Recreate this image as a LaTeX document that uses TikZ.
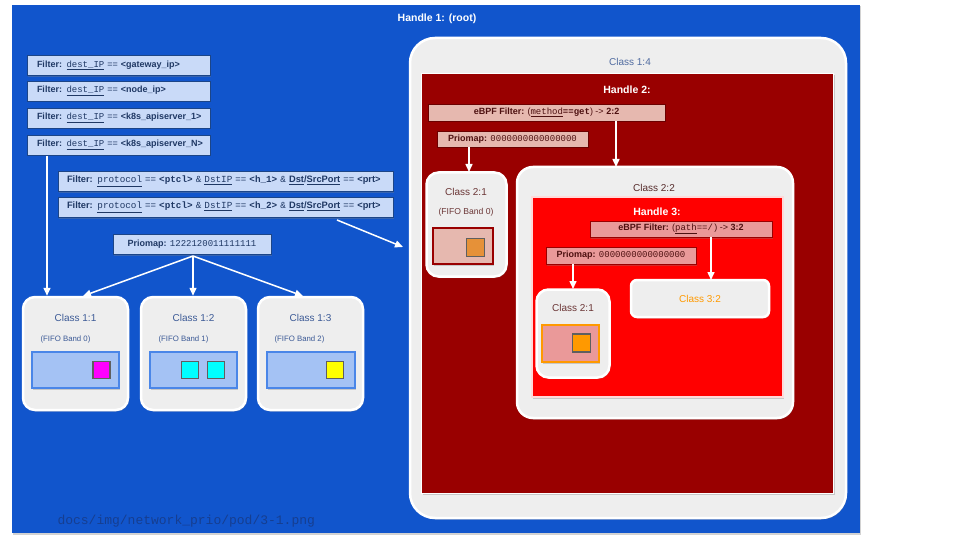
\documentclass[tikz,border=0pt]{standalone}
\usepackage{fontspec}
\setmainfont{Liberation Sans}
\setmonofont{Liberation Mono}
\usetikzlibrary{arrows.meta,shadows}
\definecolor{bgblue}{HTML}{1155CC}
\definecolor{filtfill}{HTML}{C9DAF8}
\definecolor{filtdraw}{HTML}{1C4587}
\definecolor{filttext}{HTML}{1F3864}
\definecolor{classfill}{HTML}{EEEEEE}
\definecolor{classtext}{HTML}{3C5A96}
\definecolor{bandfill}{HTML}{A4C2F4}
\definecolor{banddraw}{HTML}{4A86E8}
\definecolor{darkred}{HTML}{990000}
\definecolor{redfill}{HTML}{E6B8AF}
\definecolor{redfill2}{HTML}{EA9999}
\definecolor{redtext}{HTML}{4D1010}
\definecolor{browntext}{HTML}{6B3636}
\definecolor{orangeA}{HTML}{E69138}
\definecolor{orangeB}{HTML}{FF9900}
\definecolor{sqdraw}{HTML}{5F5F5F}
\definecolor{foot}{HTML}{163E90}
\definecolor{sqmag}{HTML}{FF00FF}
\definecolor{sqcyan}{HTML}{00FFFF}
\definecolor{sqyel}{HTML}{FFFF00}
\newcommand{\umono}[1]{\underline{\texttt{#1}}}
\newcommand{\bmono}[1]{\texttt{\bfseries #1}}
\tikzset{
  shad/.style={drop shadow={opacity=0.35,shadow xshift=1pt,shadow yshift=-1.5pt}},
  filt/.style={shad,draw=filtdraw,fill=filtfill,line width=0.8pt,text=filttext,
    inner sep=0pt,font=\fontsize{9}{11}\selectfont},
  lfilt/.style={filt,inner xsep=10pt,align=left},
  redfilt/.style={shad,draw=darkred!70!black,fill=redfill,line width=0.8pt,text=redtext,
    inner sep=0pt,font=\fontsize{9}{11}\selectfont},
  redfilt2/.style={redfilt,fill=redfill2,draw=darkred},
  classbox/.style={shad,draw=white,fill=classfill,line width=2.5pt,rounded corners=12pt,inner sep=0pt},
  band/.style={shad,draw=banddraw,fill=bandfill,line width=1.2pt,inner sep=0pt},
  sq/.style={draw=sqdraw,line width=1.5pt,minimum size=17pt,inner sep=0pt},
  clab/.style={text=classtext,font=\fontsize{10}{12}\selectfont},
  fifo/.style={text=classtext,font=\fontsize{7.8}{9}\selectfont},
  arr/.style={draw=white,line width=1.5pt,-{Triangle[width=7pt,length=8pt]}},
  title/.style={text=white,font=\bfseries\fontsize{10.5}{12}\selectfont}
}
\begin{document}
\begin{tikzpicture}[x=1pt,y=-1pt]
\useasboundingbox (0,0) rectangle (960,540);
\fill[white] (0,0) rectangle (960,540);
% root panel
\node[shad,fill=bgblue,minimum width=848pt,minimum height=528pt,inner sep=0pt] (root) at (436,269) {};
\node[title] (h1) at (437,19) {Handle 1: (root)};
% left filters
\node[lfilt,text width=163pt,minimum height=20pt] (f1) at (118.5,65.5) {\mbox{\textbf{Filter:} \umono{dest\_IP} == \textbf{<gateway\_ip>}}};
\node[lfilt,text width=163pt,minimum height=20pt] (f2) at (118.5,91) {\mbox{\textbf{Filter:} \umono{dest\_IP} == \textbf{<node\_ip>}}};
\node[lfilt,text width=163pt,minimum height=20pt] (f3) at (118.5,118) {\mbox{\textbf{Filter:} \umono{dest\_IP} == \textbf{<k8s\_apiserver\_1>}}};
\node[lfilt,text width=163pt,minimum height=20pt] (f4) at (118.5,145) {\mbox{\textbf{Filter:} \umono{dest\_IP} == \textbf{<k8s\_apiserver\_N>}}};
\node[lfilt,inner xsep=9pt,text width=317pt,minimum height=20pt,font=\fontsize{9.3}{11}\selectfont] (f5) at (225.5,181) {\mbox{\textbf{Filter:} \umono{protocol} == \bmono{<ptcl>} \texttt{\&} \umono{DstIP} == \bmono{<h\_1>} \texttt{\&} \textbf{\underline{Dst}/\underline{SrcPort}} == \textbf{<prt>}}};
\node[lfilt,inner xsep=9pt,text width=317pt,minimum height=20pt,font=\fontsize{9.3}{11}\selectfont] (f6) at (225.5,207) {\mbox{\textbf{Filter:} \umono{protocol} == \bmono{<ptcl>} \texttt{\&} \umono{DstIP} == \bmono{<h\_2>} \texttt{\&} \textbf{\underline{Dst}/\underline{SrcPort}} == \textbf{<prt>}}};
\node[filt,minimum width=158pt,minimum height=20pt] (p1) at (192,244) {\textbf{Priomap:} \texttt{1222120011111111}};
% classes 1:x
\node[classbox,minimum width=105pt,minimum height=113pt] (c11) at (75.5,353.5) {};
\node[classbox,minimum width=105pt,minimum height=113pt] (c12) at (193.5,353.5) {};
\node[classbox,minimum width=105pt,minimum height=113pt] (c13) at (310.5,353.5) {};
\node[clab] (c11l) at (c11.north |- 0,318) {Class 1:1};
\node[clab] (c12l) at (c12.north |- 0,318) {Class 1:2};
\node[clab] (c13l) at (c13.north |- 0,318) {Class 1:3};
\node[fifo,anchor=west] (c11f) at (37,339) {(FIFO Band 0)};
\node[fifo,anchor=west] (c12f) at (155,339) {(FIFO Band 1)};
\node[fifo,anchor=west] (c13f) at (271,339) {(FIFO Band 2)};
\node[band,minimum width=87pt,minimum height=36pt] (b11) at (75.5,370) {};
\node[band,minimum width=87pt,minimum height=36pt] (b12) at (193.5,370) {};
\node[band,minimum width=88pt,minimum height=36pt] (b13) at (311,370) {};
\node[sq,fill=sqmag] (s11) at (101.5,370) {};
\node[sq,fill=sqcyan] (s12a) at (190,370) {};
\node[sq,fill=sqcyan] (s12b) at (216,370) {};
\node[sq,fill=sqyel] (s13) at (335,370) {};
% class 1:4
\node[classbox,rounded corners=25pt,minimum width=436pt,minimum height=480pt] (c14) at (628,278) {};
\node[text=classtext!90!white,font=\fontsize{10}{12}\selectfont] (c14l) at (630,62) {Class 1:4};
\node[shad,fill=darkred,draw=white,line width=1.5pt,minimum width=412pt,minimum height=420pt,inner sep=0pt] (h2) at (627.5,283.5) {};
\node[title] (h2l) at (627,90) {Handle 2:};
\node[redfilt,minimum width=237pt,minimum height=17pt] (e2) at (546.5,112.5) {\textbf{eBPF Filter:} (\umono{method}\bmono{==get}) -> \textbf{2:2}};
\node[redfilt,minimum width=151pt,minimum height=16pt] (p2) at (512.5,139) {\textbf{Priomap:} \texttt{0000000000000000}};
% class 2:1 (handle 2)
\node[classbox,minimum width=80pt,minimum height=104pt] (c21) at (466.5,224.5) {};
\node[text=browntext,font=\fontsize{10}{12}\selectfont] (c21l) at (466,192) {Class 2:1};
\node[text=browntext,font=\fontsize{8.6}{10}\selectfont] (c21f) at (466,212) {(FIFO Band 0)};
\node[shad,fill=redfill,draw=darkred,line width=1.5pt,minimum width=60pt,minimum height=36pt,inner sep=0pt] (b21) at (463,246) {};
\node[sq,fill=orangeA,minimum size=18pt] (s21) at (475.5,247.5) {};
% class 2:2
\node[classbox,rounded corners=16pt,minimum width=276pt,minimum height=251pt] (c22) at (655,292.5) {};
\node[text=browntext!80!black,font=\fontsize{10}{12}\selectfont] (c22l) at (654,188) {Class 2:2};
\node[shad,fill=red,draw=white!85!red,line width=1.2pt,minimum width=251pt,minimum height=200pt,inner sep=0pt] (h3) at (657.5,297) {};
\node[title] (h3l) at (657,212) {Handle 3:};
\node[redfilt2,minimum width=182pt,minimum height=16pt] (e3) at (681,229) {\textbf{eBPF Filter:} (\umono{path}\texttt{==/}\,) -> \textbf{3:2}};
\node[redfilt2,minimum width=150pt,minimum height=17pt] (p3) at (621,255.5) {\textbf{Priomap:} \texttt{0000000000000000}};
% inner class 2:1
\node[classbox,minimum width=73pt,minimum height=88pt] (c21b) at (573,333.5) {};
\node[text=browntext,font=\fontsize{10}{12}\selectfont] (c21bl) at (573,308) {Class 2:1};
\node[shad,fill=redfill2,draw=orangeB,line width=1.5pt,minimum width=57pt,minimum height=37pt,inner sep=0pt] (b21b) at (570.5,343.5) {};
\node[sq,fill=orangeB,minimum size=18pt] (s21b) at (581.5,343) {};
% class 3:2
\node[classbox,rounded corners=6pt,minimum width=138pt,minimum height=37pt] (c32) at (700,298.5) {};
\node[text=orangeB,font=\fontsize{10}{12}\selectfont] (c32l) at (c32) {Class 3:2};
% footer
\node[text=foot,font=\ttfamily\fontsize{13}{15}\selectfont,anchor=west] (ft) at (54,521) {docs/img/network\_prio/pod/3-1.png};
% arrows
\coordinate (a0) at (47,156);
\draw[arr] (a0) -- (a0 |- c11.north);
\coordinate (pb) at (193,256);
\draw[arr] (pb) -- (83,296);
\draw[arr] (pb) -- (pb |- c12.north);
\draw[arr] (pb) -- (303,296);
\coordinate (a6) at (337,220);
\coordinate (a6e) at (403,247);
\draw[arr] (a6) -- (a6e);
\draw[arr] (p2.south -| 469,0) -- (469,172);
\draw[arr] (e2.south -| 616,0) -- (616,167);
\draw[arr] (p3.south -| 573,0) -- (573,289);
\draw[arr] (e3.south -| 711,0) -- (711,280);
\end{tikzpicture}
\end{document}
